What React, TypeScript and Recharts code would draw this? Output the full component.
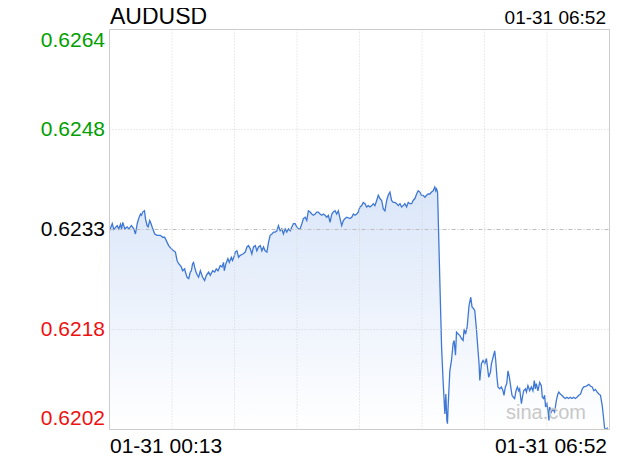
// App.tsx
import {
  AreaChart,
  Area,
  XAxis,
  YAxis,
  ReferenceLine,
  ReferenceArea,
} from "recharts";

const symbol = "AUDUSD";
const lastTime = "01-31 06:52";
const watermark = "sina.com";

// minutes since 00:13
const minutes = [
  0, 2.2, 3.4, 6.1, 7.4, 8.8, 9.6, 10.6, 12.2, 14.1, 15.4, 17.5, 19.4, 20.7, 22.1, 23.3, 24.7, 25.5, 26.5, 27.9,
  28.7, 30.0, 30.8, 32.1, 33.2, 34.5, 36.1, 38.0, 40.6, 42.4, 44.0, 46.0, 47.2, 49.4, 51.2, 52.6, 53.9, 55.2, 57.3, 58.4,
  60.0, 60.5, 61.9, 63.2, 64.5, 65.3, 66.3, 67.1, 67.9, 69.0, 70.1, 71.1, 72.5, 74.3, 75.9, 77.3, 79.1, 80.4, 82.3, 83.9,
  85.2, 86.6, 88.4, 89.8, 91.0, 91.6, 92.9, 94.5, 95.6, 97.2, 98.2, 99.8,
  100.3, 101.7, 103.0, 104.3, 106.5, 108.3, 109.7, 110.9, 112.3, 113.6, 114.9, 116.3, 117.6, 118.9, 120.3, 121.6, 122.9, 124.2, 125.6, 126.9,
  128.2, 129.6, 130.9, 132.2, 133.6, 134.8, 136.2, 137.5, 138.8, 140.2, 141.5, 142.8, 144.2, 145.5, 146.8, 148.1, 149.5, 150.8, 152.1, 153.5,
  154.7, 156.1, 157.4, 158.7, 160.1, 161.4, 162.7, 164.1, 165.4, 166.7, 168.0, 169.4, 170.7, 172.0, 173.4, 174.7, 176.0, 177.4, 178.6, 180.0,
  181.3, 182.6, 184.0, 185.3, 186.6, 188.0, 189.3, 191.9, 193.3, 194.6, 195.9,
  197.3, 198.5, 199.9, 201.3, 202.5, 203.9, 205.2, 206.5, 207.9, 209.2, 210.5, 211.8, 213.2, 214.5, 215.8, 217.2, 218.5, 219.8, 221.2, 222.4,
  223.8, 225.1, 226.4, 227.8, 229.1, 230.4, 231.8, 233.1, 234.4, 235.7, 237.1, 238.4, 239.7, 241.1, 242.3, 243.7, 245.1, 246.3, 247.7, 249.0,
  250.3, 251.7, 253.0, 254.3, 255.6, 257.0, 258.3, 259.6, 260.4, 261.0, 261.8,
  263.6, 265.0, 266.2, 267.6, 268.4, 269.2, 269.7, 270.2, 271.6, 272.9, 274.2, 275.0, 276.1, 276.9, 278.2, 279.5, 280.9, 282.2, 283.0, 284.1,
  285.4, 286.1, 286.9, 288.3, 289.3, 290.7, 291.5, 292.8, 294.1, 294.9, 295.5, 296.8, 298.1, 299.5, 300.8, 301.6, 302.6, 304.0, 304.8, 306.1,
  307.4, 308.2, 309.2, 310.0, 311.4, 312.7, 314.0, 314.8, 315.9, 317.0, 318.0, 319.1, 320.2, 321.2, 322.3, 323.3, 324.4, 325.5, 326.5,
  327.3, 328.7, 329.5, 330.5, 331.9, 332.7, 333.9, 335.3, 336.6, 337.9, 339.0, 339.8, 340.6, 341.9, 343.3, 344.6, 345.4, 346.4, 347.2, 348.0,
  349.1, 349.9, 350.7, 351.2, 352.6, 353.8, 355.2, 356.6, 357.8, 358.6, 359.7, 361.0, 362.4, 363.7, 365.0, 366.3, 367.7, 369.0, 370.3, 371.7,
  373.0, 374.5, 375.9, 377.3, 378.5, 379.9, 381.2, 382.5, 383.9, 385.2, 386.5, 387.8, 389.2, 390.5, 391.8, 393.2, 394.2, 395.0, 395.8, 396.8,
  397.6,
];

const prices = [
  0.62328, 0.62339, 0.6233, 0.62336, 0.62331, 0.62338, 0.62331, 0.62341, 0.62331, 0.62334, 0.62331, 0.62336, 0.62331, 0.62323, 0.62339, 0.62347, 0.62354, 0.62352, 0.62357, 0.62359,
  0.62347, 0.62336, 0.62334, 0.62344, 0.62339, 0.62331, 0.62323, 0.62321, 0.62321, 0.62318, 0.62318, 0.6231, 0.62305, 0.623, 0.62297, 0.62295, 0.62282, 0.62277, 0.62272, 0.62266,
  0.62269, 0.62264, 0.62256, 0.62254, 0.62264, 0.62266, 0.62277, 0.62279, 0.62272, 0.62264, 0.62259, 0.62256, 0.62266, 0.62256, 0.62251, 0.62259, 0.62264, 0.62259, 0.62266, 0.62264,
  0.62269, 0.62266, 0.62274, 0.62272, 0.62279, 0.62266, 0.62277, 0.62285, 0.62279, 0.62287, 0.62282, 0.6229,
  0.62295, 0.62297, 0.62287, 0.6229, 0.62292, 0.62295, 0.62303, 0.62305, 0.623, 0.62292, 0.62303, 0.62305, 0.62297, 0.62303, 0.62305, 0.62297, 0.62303, 0.62297, 0.62295, 0.6231,
  0.62321, 0.62323, 0.62326, 0.62326, 0.62328, 0.62336, 0.62328, 0.62331, 0.62323, 0.62331, 0.62326, 0.62331, 0.62328, 0.62334, 0.62339, 0.62339, 0.62334, 0.62331, 0.62331, 0.62339,
  0.62347, 0.62349, 0.62344, 0.62359, 0.62357, 0.62354, 0.62352, 0.62354, 0.62357, 0.62357, 0.62354, 0.62352, 0.62354, 0.62352, 0.62349, 0.62352, 0.62341, 0.62354, 0.62357, 0.62359,
  0.62354, 0.62359, 0.62347, 0.62336, 0.62344, 0.62347, 0.62349, 0.62347, 0.62349, 0.62354, 0.62352,
  0.62354, 0.62357, 0.62365, 0.62367, 0.62372, 0.6237, 0.62365, 0.62367, 0.62365, 0.62367, 0.6237, 0.62367, 0.62375, 0.62383, 0.62378, 0.62375, 0.62362, 0.62359, 0.62375, 0.62383,
  0.62388, 0.62375, 0.62372, 0.62372, 0.6237, 0.62367, 0.6237, 0.62365, 0.62367, 0.6237, 0.62365, 0.62372, 0.6237, 0.6237, 0.62375, 0.62378, 0.62385, 0.6239, 0.62388, 0.62383,
  0.62383, 0.6238, 0.62383, 0.62385, 0.62385, 0.62388, 0.6239, 0.62396, 0.6239, 0.62393, 0.62388,
  0.62251, 0.62148, 0.62096, 0.62044, 0.62075, 0.62034, 0.62029, 0.62055, 0.62111, 0.62127, 0.62153, 0.62158, 0.62135, 0.62171, 0.62168, 0.62166, 0.62161, 0.62158, 0.62176, 0.62168,
  0.62179, 0.62194, 0.62212, 0.62225, 0.6221, 0.62207, 0.62204, 0.62176, 0.62142, 0.62122, 0.62096, 0.62122, 0.62127, 0.62122, 0.6213, 0.62117, 0.62101, 0.62109, 0.62122, 0.62132,
  0.62142, 0.62127, 0.62101, 0.62086, 0.62083, 0.62086, 0.6208, 0.62073, 0.62086, 0.62091, 0.62111, 0.62101, 0.62086, 0.62073, 0.6207, 0.62068, 0.6208, 0.62086, 0.6208,
  0.62083, 0.6206, 0.6207, 0.6208, 0.62083, 0.62078, 0.62088, 0.6208, 0.62086, 0.6208, 0.62096, 0.62083, 0.62091, 0.6208, 0.62093, 0.62088, 0.6207, 0.62068, 0.62073, 0.62055,
  0.6206, 0.62049, 0.62034, 0.62055, 0.62047, 0.62052, 0.62047, 0.62065, 0.62075, 0.62078, 0.62075, 0.62073, 0.6207, 0.62068, 0.6207, 0.62068, 0.6207, 0.62068, 0.6207, 0.62068,
  0.6207, 0.62073, 0.62075, 0.62083, 0.62086, 0.62087, 0.62088, 0.6209, 0.62087, 0.62086, 0.6208, 0.62082, 0.62078, 0.62075, 0.62073, 0.62057, 0.62039, 0.62023, 0.6202, 0.62021,
  0.62023,
];

const prevClose = 0.6233;
const yTicks = [0.6202, 0.62175, 0.6233, 0.62485, 0.6264];
const yTickLabels = ["0.6202", "0.6218", "0.6233", "0.6248", "0.6264"];
const xTicks = [0, 399];
const xTickLabels = ["01-31 00:13", "01-31 06:52"];
const gridMinutes = [49.875, 99.75, 149.625, 199.5, 249.375, 299.25, 349.125];

const data = minutes.map((t, i) => ({ t, price: prices[i] }));

const FONT = '"Liberation Sans", Arial, Helvetica, sans-serif';
const W = 612;
const H = 453;

const YTick = (props: any) => {
  const { y, payload } = props;
  const i = yTicks.indexOf(payload.value);
  const v = payload.value;
  const color = v > prevClose ? "#00a000" : v < prevClose ? "#ee1111" : "#000";
  const shift = i === 0 ? -5 : i === yTicks.length - 1 ? 17.5 : 6.5;
  return (
    <text x={97} y={y + shift} textAnchor="end" fontSize={21} fill={color} fontFamily={FONT}>
      {yTickLabels[i]}
    </text>
  );
};

const XTick = (props: any) => {
  const { payload } = props;
  const i = xTicks.indexOf(payload.value);
  return (
    <text
      x={i === 0 ? 102 : 599}
      y={445}
      textAnchor={i === 0 ? "start" : "end"}
      fontSize={21}
      fill="#000"
      fontFamily={FONT}
    >
      {xTickLabels[i]}
    </text>
  );
};

export default function App() {
  return (
    <div style={{ position: "relative", width: W, height: H, fontFamily: FONT }}>
      <AreaChart
        width={W}
        height={H}
        data={data}
        margin={{ top: 21.5, right: 10.5, bottom: 0.5, left: 0 }}
      >
        <defs>
          <linearGradient id="fillGrad" x1="0" y1="0" x2="0" y2="1">
            <stop offset="0%" stopColor="#dae6f9" />
            <stop offset="100%" stopColor="#ffffff" />
          </linearGradient>
        </defs>
        <XAxis
          dataKey="t"
          type="number"
          domain={[0, 399]}
          ticks={xTicks}
          height={31}
          axisLine={false}
          tickLine={false}
          tick={XTick}
          interval={0}
        />
        <YAxis
          type="number"
          domain={[0.6202, 0.6264]}
          ticks={yTicks}
          width={101.5}
          axisLine={false}
          tickLine={false}
          tick={YTick}
          interval={0}
          allowDataOverflow
        />
        {gridMinutes.map((m) => (
          <ReferenceLine key={m} x={m} stroke="#d6d6d6" strokeDasharray="1 2" />
        ))}
        <ReferenceLine y={yTicks[1]} stroke="#d6d6d6" strokeDasharray="1 2" />
        <ReferenceLine y={yTicks[3]} stroke="#d6d6d6" strokeDasharray="1 2" />
        <Area
          type="linear"
          dataKey="price"
          stroke="#3f78d4"
          strokeWidth={1.3}
          fill="url(#fillGrad)"
          fillOpacity={1}
          dot={false}
          activeDot={false}
          isAnimationActive={false}
        />
        <ReferenceLine y={prevClose} stroke="#bdbdbd" strokeDasharray="4 2 1 2" />
        <ReferenceArea
          x1={0}
          x2={399}
          y1={0.6202}
          y2={0.6264}
          fill="none"
          stroke="#cccccc"
          fillOpacity={0}
        />
      </AreaChart>
      <svg
        width={W}
        height={H + 8}
        style={{ position: "absolute", left: 0, top: -8, pointerEvents: "none" }}
      >
        <text x={102} y={24} fontSize={23} fill="#000" fontFamily={FONT}>
          {symbol}
        </text>
        <text x={598} y={24} fontSize={19} fill="#000" textAnchor="end" fontFamily={FONT}>
          {lastTime}
        </text>
        <text x={498} y={419} fontSize={20} fill="#c8c8c8" fontFamily={FONT}>
          {watermark}
        </text>
      </svg>
    </div>
  );
}
